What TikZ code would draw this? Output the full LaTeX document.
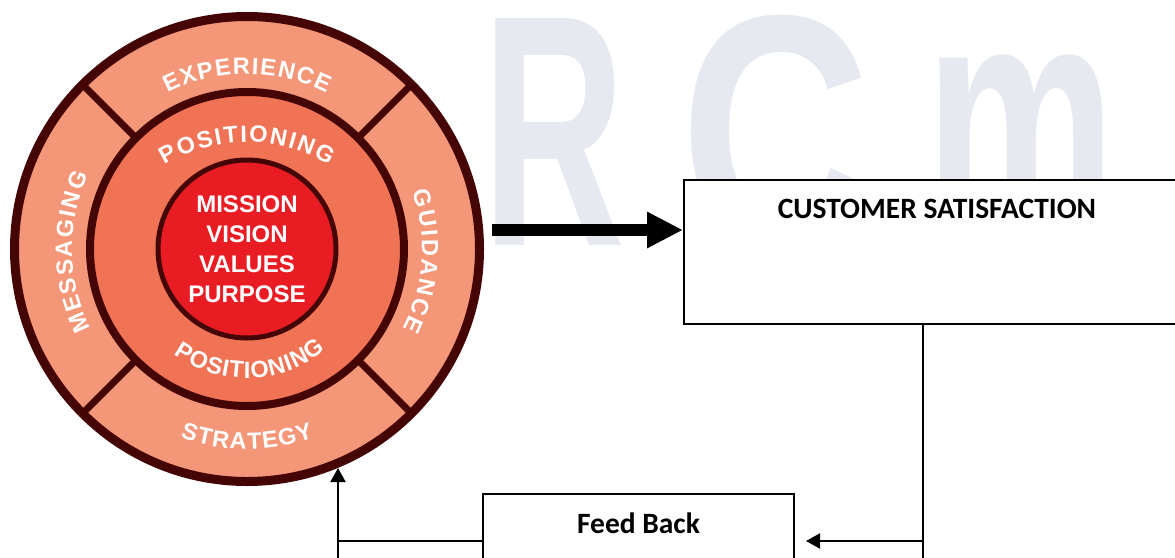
\documentclass[tikz,border=0pt]{standalone}
\usepackage{fontspec}
\setmainfont{Liberation Sans}
\newfontfamily\boxfont{Carlito}
\usetikzlibrary{arrows.meta,decorations.text,calc}
\definecolor{ringout}{RGB}{244,150,120}
\definecolor{ringmid}{RGB}{240,115,85}
\definecolor{core}{RGB}{233,28,36}
\definecolor{rim}{RGB}{70,5,5}
\definecolor{wm}{RGB}{231,233,240}
\begin{document}
\begin{tikzpicture}[x=1pt,y=1pt,
  ringtext/.style={decorate,decoration={text along path,text align=fit to path,
     text={|\bfseries\fontsize{23.5}{23.5}\selectfont\color{white}|#1}}},
  divider/.style={draw=rim,line width=7pt},
  boxnode/.style={draw=black,fill=white,line width=2pt,anchor=north west,inner sep=0pt,
     font=\boxfont\bfseries\fontsize{29.5}{29.5}\selectfont},
  conn/.style={draw=black,line width=2pt},
  smalltip/.style={-{Triangle[length=14pt,width=15pt]}},
  wmark/.style={text=wm,inner sep=0pt,anchor=base west,font=\bfseries\fontsize{330}{330}\selectfont}]
\useasboundingbox (0,0) rectangle (1175,-557);
\clip (0,0) rectangle (1175,-557);
% watermark
\node[wmark,xscale=0.6] (wR) at (482,-245) {R};
\node[wmark,xscale=0.8] (wC) at (680,-245) {C};
\node[wmark,xscale=0.65] (wM) at (925,-232) {m};
% wheel
\coordinate (C) at (247,-249);
\node[circle,minimum size=465pt,inner sep=0pt,fill=ringout,draw=rim,line width=9pt] (wheel) at (C) {};
\foreach \a in {45,135,225,315}
  \draw[divider] (C) ++(\a:150) -- ++(\a:84);
\node[circle,minimum size=314pt,inner sep=0pt,fill=ringmid,draw=rim,line width=8pt] (mid) at (C) {};
\node[circle,minimum size=178pt,inner sep=0pt,fill=core,draw=rim,line width=5pt,
      text=white,align=center,font=\bfseries\fontsize{24}{30}\selectfont] (core) at (C)
      {MISSION\\VISION\\VALUES\\PURPOSE};
% ring texts
\path[ringtext=EXPERIENCE] (C) ++(117:175) arc[start angle=117,end angle=63,radius=175];
\path[ringtext=GUIDANCE] (C) ++(19:175) arc[start angle=19,end angle=-27,radius=175];
\path[ringtext=MESSAGING] (C) ++(207:175) arc[start angle=207,end angle=155,radius=175];
\path[ringtext=STRATEGY] (C) ++(250.5:200) arc[start angle=250.5,end angle=289.5,radius=200];
\path[ringtext=POSITIONING] (247,-300) ++(121.3:158) arc[start angle=121.3,end angle=58.7,radius=158];
\path[ringtext=POSITIONING] (247,-253) ++(234:125) arc[start angle=234,end angle=309,radius=125];
% boxes
\node[boxnode,minimum width=506pt,text height=38pt,text depth=106pt] (cs) at (683,-179) {CUSTOMER SATISFACTION};
\node[boxnode,minimum width=311pt,text height=39pt,text depth=61pt] (fb) at (482,-493) {Feed Back};
% big arrow
\coordinate (a1) at (492,-230);
\draw[line width=12pt,-{Triangle[length=36pt,width=34pt]}] (a1) -- (a1 -| cs.west);
% feedback loop
\coordinate (dn) at (923,-541);
\coordinate (dnend) at (923,-580);
\draw[conn] (dn |- cs.south) -- (dnend);
\draw[conn,smalltip,shorten >=11pt] (dn) -- (dn -| fb.east);
\coordinate (lc) at (338,-541);
\coordinate (lcend) at (338,-580);
\coordinate (tip) at (338,-468);
\draw[conn] (lc -| fb.west) -- (lc);
\draw[conn,smalltip] (lcend) -- (tip);
\end{tikzpicture}
\end{document}
